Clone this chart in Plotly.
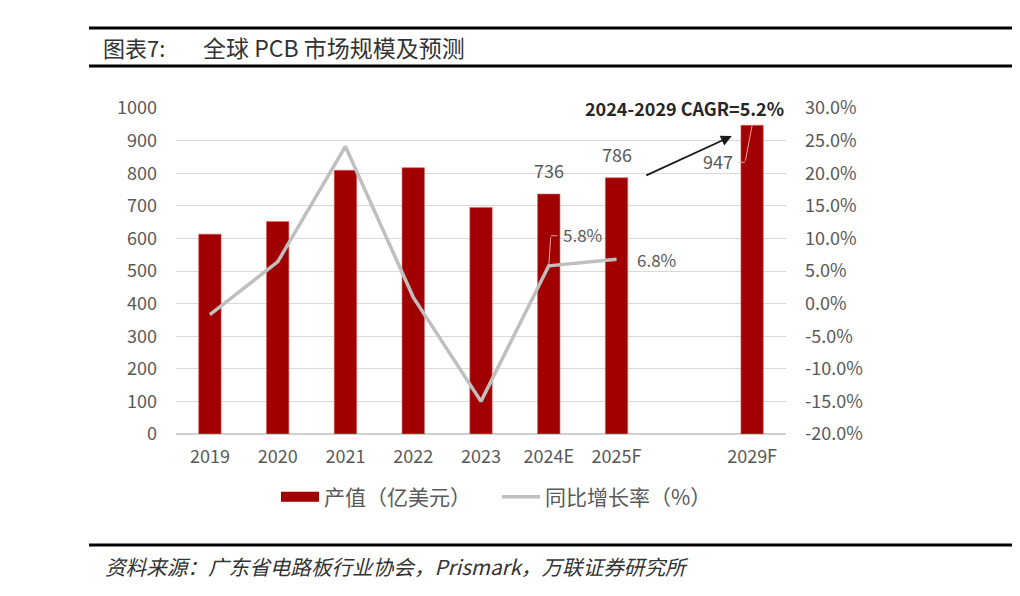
import plotly.graph_objects as go

# Global PCB market size and forecast
categories = ["2019", "2020", "2021", "2022", "2023", "2024E", "2025F", " ", "2029F"]
bar_years = ["2019", "2020", "2021", "2022", "2023", "2024E", "2025F", "2029F"]
output_value = [613, 652, 809, 817, 695, 736, 786, 947]  # 亿美元
growth_years = ["2019", "2020", "2021", "2022", "2023", "2024E", "2025F"]
growth_rate = [-1.7, 6.4, 24.1, 1.0, -15.0, 5.8, 6.8]  # %
labelled_bars = ["2024E", "2025F"]
left_ticks = list(range(0, 1001, 100))
right_ticks = list(range(-20, 31, 5))

BAR_RED = '#A00000'
LINE_GREY = '#BFBFBF'
TEXT_GREY = '#595959'
LEADER = '#E8A8A8'
FONT = "Noto Sans CJK SC"

# page body has an 8px margin; work in screenshot pixels and shift
OFF = 8
W, H = 1020 - 2 * OFF, 596 - 2 * OFF
PLOT_L, PLOT_R, PLOT_T, PLOT_B = 176, 786, 108, 434
L, T = PLOT_L - OFF, PLOT_T - OFF
R, B = W - (PLOT_R - OFF), H - (PLOT_B - OFF)
pw, ph = PLOT_R - PLOT_L, PLOT_B - PLOT_T


def px_x(x):
    return (x - PLOT_L) / pw


def px_y(y):
    return (PLOT_B - y) / ph


fig = go.Figure()

fig.add_trace(go.Bar(
    x=bar_years,
    y=output_value,
    name="产值（亿美元）",
    marker=dict(color=BAR_RED, line=dict(color='#E06060', width=0.6)),
    width=0.33,
    showlegend=False,
))

# legend-only entry so the bar key is drawn as a wide block like the original
fig.add_trace(go.Scatter(
    x=[None], y=[None],
    name="产值（亿美元）",
    mode='lines',
    line=dict(color=BAR_RED, width=10),
))

fig.add_trace(go.Scatter(
    x=growth_years,
    y=growth_rate,
    name="同比增长率（%）",
    mode='lines',
    line=dict(color=LINE_GREY, width=3.5),
    yaxis='y2',
))

annotations = []

# value labels above 2024E / 2025F
for yr, v in zip(bar_years, output_value):
    if yr in labelled_bars:
        annotations.append(dict(
            x=yr, y=v, xref='x', yref='y', text=str(v), showarrow=False,
            yanchor='bottom', yshift=9, font=dict(size=18, color=TEXT_GREY),
        ))


def leader_label(x, y, yref, text, dx, dy, hx, size):
    """Elbow leader: point -> (dx, dy), then horizontal hx, then the text."""
    annotations.append(dict(
        x=x, y=y, xref='x', yref=yref, text="", showarrow=True, arrowhead=0,
        arrowcolor=LEADER, arrowwidth=1, ax=dx, ay=dy,
    ))
    annotations.append(dict(
        x=x, y=y, xref='x', yref=yref, text="", showarrow=True, arrowhead=0,
        arrowcolor=LEADER, arrowwidth=1, ax=hx, ay=0, xshift=dx, yshift=-dy,
    ))
    annotations.append(dict(
        x=x, y=y, xref='x', yref=yref, text=text, showarrow=False,
        xanchor='left' if hx > 0 else 'right', yanchor='middle',
        xshift=dx + hx + (2 if hx > 0 else -2), yshift=-dy + 1,
        font=dict(size=size, color=TEXT_GREY),
    ))


# 947 label beside the 2029F bar
leader_label(bar_years[-1], output_value[-1], 'y', str(output_value[-1]), -7, 37, -8, 18)

# 5.8% label for 2024E
leader_label(growth_years[-2], growth_rate[-2], 'y2', f"{growth_rate[-2]:.1f}%", 2, -30, 8, 17)

# 6.8% label for 2025F
annotations.append(dict(
    x=growth_years[-1], y=growth_rate[-1], xref='x', yref='y2',
    text=f"{growth_rate[-1]:.1f}%", showarrow=False,
    xanchor='left', yanchor='middle', xshift=18,
    font=dict(size=17, color=TEXT_GREY),
))

# CAGR arrow and text
annotations.append(dict(
    x=7.7, y=25.7, xref='x', yref='y2', text="",
    showarrow=True, arrowhead=2, arrowsize=1.2, arrowwidth=1.8,
    arrowcolor='#1a1a1a', ax=-87, ay=40,
))
annotations.append(dict(
    x=1.0, y=1.0, xref='paper', yref='paper', text="<b>2024-2029 CAGR=5.2%</b>",
    showarrow=False, xanchor='right', yanchor='middle',
    font=dict(size=18, color='#262626'),
))

# header and footer
annotations.append(dict(
    x=px_x(101), y=px_y(47), xref='paper', yref='paper', text="图表7:",
    showarrow=False, xanchor='left', yanchor='middle',
    font=dict(size=22, color='#333333'),
))
annotations.append(dict(
    x=px_x(201), y=px_y(47), xref='paper', yref='paper', text="全球 PCB 市场规模及预测",
    showarrow=False, xanchor='left', yanchor='middle',
    font=dict(size=23, color='#333333'),
))
annotations.append(dict(
    x=px_x(103), y=px_y(566), xref='paper', yref='paper',
    text="<i>资料来源：广东省电路板行业协会，Prismark，万联证券研究所</i>",
    showarrow=False, xanchor='left', yanchor='middle',
    font=dict(size=20.6, color='#333333'),
))

shapes = []
for y in [28, 66, 545]:
    shapes.append(dict(
        type='line', xref='paper', yref='paper',
        x0=px_x(89), x1=px_x(1020), y0=px_y(y), y1=px_y(y),
        line=dict(color='black', width=3),
    ))

fig.update_layout(
    width=W, height=H,
    margin=dict(l=L, r=R, t=T, b=B, autoexpand=False),
    paper_bgcolor='white',
    plot_bgcolor='white',
    font=dict(family=FONT, color=TEXT_GREY, size=18),
    showlegend=True,
    legend=dict(
        orientation='h', x=px_x(276), y=px_y(497), xanchor='left', yanchor='middle',
        font=dict(size=21, color=TEXT_GREY), traceorder='normal',
        entrywidth=168, entrywidthmode='pixels', itemwidth=38,
    ),
    xaxis=dict(
        categoryorder='array', categoryarray=categories, type='category',
        range=[-0.5, len(categories) - 0.5],
        showgrid=False, showline=False, ticks='', tickfont=dict(size=18, color=TEXT_GREY),
        ticklabelstandoff=10,
    ),
    yaxis=dict(
        range=[0, 1000], tickvals=left_ticks, showgrid=True, gridcolor='#D9D9D9',
        gridwidth=1, zeroline=True, zerolinecolor='#D0D0D0', ticks='',
        tickfont=dict(size=18, color=TEXT_GREY), ticklabelstandoff=18,
    ),
    yaxis2=dict(
        range=[-20, 30], tickvals=right_ticks,
        ticktext=[f"{v:.1f}%" for v in right_ticks],
        overlaying='y', side='right', showgrid=False, zeroline=False, ticks='',
        tickfont=dict(size=18, color=TEXT_GREY), ticklabelstandoff=18,
    ),
    annotations=annotations,
    shapes=shapes,
)

fig.write_html("out.html")
